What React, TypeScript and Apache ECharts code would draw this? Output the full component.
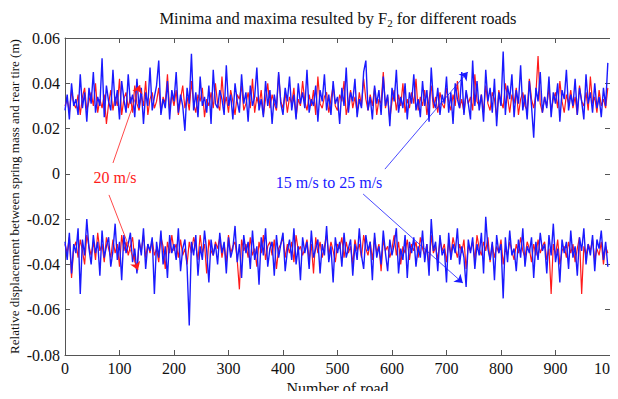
import React, { useEffect, useRef } from "react";
import * as echarts from "echarts";

// road numbers are sampled every 4 roads; values in units of 0.001 m
const roadStep = 4;
const xTickValues = [0, 100, 200, 300, 400, 500, 600, 700, 800, 900, 1000];
const yTickValues = [-0.08, -0.06, -0.04, -0.02, 0, 0.02, 0.04, 0.06];

const upperBlue = [
  28,35,24,40,30,33,26,44,29,36, 23,38,31,45,27,34,30,51,25,39,
  32,28,46,30,37,24,41,33,27,44, 31,35,25,42,29,38,22,36,30,47,
  28,34,39,50,26,33,29,41,24,37, 32,45,27,35,30,19,38,31,53,28,
  36,25,43,30,34,27,39,22,46,31, 29,37,33,26,48,30,35,24,40,32,
  27,44,31,36,23,39,30,34,47,28, 33,25,41,30,37,22,35,29,45,31,
  26,38,32,43,28,35,24,40,31,36, 29,46,27,33,30,39,23,37,32,44,
  28,35,26,41,31,34,22,38,30,47, 27,36,32,42,25,33,29,45,50,28,
  34,24,39,31,37,26,43,30,35,21, 38,32,46,27,34,29,40,24,36,31,
  44,28,33,25,41,30,37,23,47,32, 29,38,26,35,31,43,27,36,22,40,
  33,29,45,26,37,31,24,50,30,41, 28,35,23,46,32,38,27,42,21,36,
  30,54,26,39,33,44,25,37,31,48, 28,35,24,41,30,16,38,32,45,27,
  34,29,43,25,36,31,40,23,37,33, 46,28,35,30,42,26,38,32,24,44,
  31,36,27,40,29,34,25,38,30,49,
];

const upperRed = [
  30,33,27,37,31,29,35,26,34,38, 28,32,36,30,40,27,33,29,35,22,
  31,37,28,34,30,42,26,33,36,29, 34,27,39,31,28,35,30,41,26,33,
  36,29,32,38,27,34,31,44,28,35, 30,37,26,33,39,29,34,28,41,31,
  27,35,32,38,25,33,30,36,29,40, 31,28,43,30,34,27,37,32,26,35,
  33,39,28,31,36,29,42,27,34,30, 37,26,33,40,29,35,31,28,44,32,
  29,36,27,34,31,38,25,33,30,41, 32,28,35,30,37,26,43,31,29,34,
  36,27,33,39,30,28,35,32,41,26, 31,37,29,34,27,36,30,42,33,28,
  35,30,38,26,33,31,45,29,34,24, 32,37,28,35,30,40,27,33,29,36,
  31,42,28,34,30,37,26,33,39,29, 34,27,36,31,29,38,32,28,35,30,
  41,29,33,27,36,31,34,28,44,32, 30,35,27,39,31,28,36,33,25,37,
  32,29,40,34,27,35,31,38,26,33, 36,30,28,42,33,29,35,52,31,27,
  34,30,38,28,33,36,29,41,32,27, 35,31,37,29,34,26,39,32,30,36,
  28,43,31,34,27,37,30,33,29,38,
];

const lowerBlue = [
  -30,-38,-26,-44,-31,-35,-24,-53,-29,-36, -20,-33,-40,-27,-35,-30,-45,-25,-37,-32,
  -28,-41,-34,-22,-38,-30,-47,-27,-35,-31, -26,-39,-33,-44,-29,-36,-24,-42,-31,-34,
  -28,-53,-30,-37,-25,-40,-32,-46,-27,-35, -31,-38,-24,-43,-33,-29,-41,-67,-30,-36,
  -27,-45,-32,-38,-25,-34,-48,-29,-36,-31, -40,-26,-35,-30,-44,-28,-37,-33,-23,-39,
  -31,-46,-27,-35,-30,-42,-25,-38,-32,-49, -28,-36,-24,-41,-33,-30,-45,-27,-37,-31,
  -26,-43,-34,-29,-38,-24,-40,-32,-47,-28, -35,-30,-42,-25,-37,-33,-29,-44,-31,-36,
  -23,-39,-32,-48,-28,-35,-30,-41,-26,-37, -33,-29,-45,-31,-38,-24,-36,-42,-27,-34,
  -30,-47,-26,-37,-32,-40,-25,-35,-43,-29, -36,-31,-24,-44,-33,-38,-27,-46,-30,-35,
  -28,-41,-32,-37,-25,-39,-31,-45,-20,-34, -30,-43,-27,-36,-33,-48,-26,-38,-31,-35,
  -24,-40,-32,-37,-50,-29,-35,-28,-42,-31, -36,-26,-44,-19,-33,-38,-30,-47,-27,-35,
  -31,-55,-28,-39,-25,-36,-33,-43,-29,-37, -24,-41,-32,-35,-28,-46,-30,-38,-26,-34,
  -31,-44,-27,-36,-22,-39,-33,-48,-29,-35, -30,-42,-25,-37,-32,-45,-28,-34,-24,-40,
  -31,-36,-27,-43,-29,-33,-25,-38,-30,-41,
];

const lowerRed = [
  -31,-35,-28,-46,-33,-30,-37,-29,-34,-40, -27,-32,-36,-30,-38,-26,-34,-31,-39,-28,
  -33,-37,-29,-35,-31,-41,-27,-34,-30,-36, -32,-28,-38,-43,-30,-34,-27,-37,-31,-35,
  -29,-36,-33,-39,-28,-32,-42,-30,-35,-27, -34,-31,-37,-29,-36,-33,-40,-30,-35,-28,
  -32,-38,-27,-35,-31,-44,-29,-34,-36,-30, -33,-28,-37,-31,-39,-27,-35,-32,-30,-38,
  -51,-29,-34,-31,-37,-28,-36,-33,-41,-30, -35,-27,-38,-32,-30,-36,-29,-42,-33,-31,
  -28,-37,-31,-35,-30,-39,-27,-34,-32,-36, -33,-29,-38,-31,-44,-28,-35,-30,-37,-32,
  -27,-36,-30,-34,-39,-31,-33,-28,-37,-30, -35,-32,-40,-29,-34,-31,-37,-27,-33,-36,
  -30,-38,-28,-35,-31,-43,-29,-34,-32,-37, -33,-27,-36,-30,-40,-32,-35,-29,-38,-31,
  -34,-30,-37,-28,-33,-36,-31,-41,-27,-35, -32,-38,-29,-34,-31,-39,-30,-36,-28,-33,
  -37,-31,-35,-29,-42,-32,-34,-30,-38,-27, -33,-36,-30,-34,-28,-39,-31,-37,-32,-35,
  -29,-40,-33,-36,-30,-34,-38,-31,-35,-28, -34,-37,-30,-33,-39,-31,-36,-29,-35,-32,
  -30,-38,-33,-53,-31,-36,-29,-40,-34,-32, -37,-30,-35,-31,-39,-33,-28,-53,-32,-36,
  -31,-34,-29,-38,-33,-36,-30,-40,-32,-35,
];

// annotation arrows in data coordinates: [road, displacement] start -> end
const redArrows = [
  [[88, 0.0048], [137.6, 0.0392]],
  [[80.7, -0.0093], [134, -0.0425]],
];
const blueArrows = [
  [[587, 0.0021], [739, 0.045]],
  [[547, -0.0089], [730, -0.0482]],
];

const RED = "#ff1a1a";
const BLUE = "#1a1aff";

const toPairs = (arr: number[]) => arr.map((v, i) => [i * roadStep, v / 1000]);

const fmtY = (v: number) => (Math.abs(v) < 1e-9 ? "0" : v.toFixed(2));

export default function App() {
  const ref = useRef<HTMLDivElement>(null);
  useEffect(() => {
    if (!ref.current) return;
    const chart = echarts.init(ref.current, undefined, { renderer: "svg" });
    const font = "'Liberation Serif', 'Times New Roman', serif";
    const axisColor = "#555";
    const mkArrows = (arrows: number[][][], color: string) => ({
      silent: true,
      symbol: ["none", "arrow"],
      symbolSize: 8,
      label: { show: false },
      lineStyle: { color, width: 0.8, type: "solid" },
      emphasis: { disabled: true },
      data: arrows.map((a) => [{ coord: a[0] }, { coord: a[1] }]),
    });
    const lineSeries = (data: number[][], color: string, width: number, extra: any = {}) => ({
      type: "line",
      data,
      showSymbol: false,
      symbol: "none",
      lineStyle: { color, width },
      itemStyle: { color },
      silent: true,
      ...extra,
    });
    const axisLine = { show: true, onZero: false, lineStyle: { color: axisColor, width: 1 } };
    const axisTick = { show: true, inside: true, length: 5, lineStyle: { color: axisColor } };
    chart.setOption({
      animation: false,
      grid: { left: 65, right: 8, top: 38, bottom: 44, outerBoundsMode: "none", containLabel: false },
      xAxis: [
        {
          type: "value",
          min: 0,
          max: 1000,
          interval: 100,
          name: "Number of road",
          nameLocation: "middle",
          nameGap: 25,
          nameMoveOverlap: false,
          nameTextStyle: { fontFamily: font, fontSize: 16, color: "#111" },
          axisLine,
          axisTick,
          axisLabel: { fontFamily: font, fontSize: 16, color: "#111", margin: 5,
            formatter: (v: number) => String(v), customValues: xTickValues },
          splitLine: { show: false },
        },
        {
          type: "value",
          position: "top",
          min: 0,
          max: 1000,
          interval: 100,
          axisLine,
          axisTick,
          axisLabel: { show: false },
          splitLine: { show: false },
        },
      ],
      yAxis: [
        {
          type: "value",
          min: -0.08,
          max: 0.06,
          interval: 0.02,
          name: "Relative displacement between spring mass and rear tire (m)",
          nameLocation: "middle",
          nameGap: 44,
          nameMoveOverlap: false,
          nameTextStyle: { fontFamily: font, fontSize: 13, color: "#111" },
          axisLine,
          axisTick,
          axisLabel: { fontFamily: font, fontSize: 16, color: "#111", margin: 5,
            formatter: fmtY, customValues: yTickValues },
          splitLine: { show: false },
        },
        {
          type: "value",
          position: "right",
          min: -0.08,
          max: 0.06,
          interval: 0.02,
          axisLine,
          axisTick,
          axisLabel: { show: false },
          splitLine: { show: false },
        },
      ],
      series: [
        lineSeries(toPairs(upperRed), RED, 1.2, { markLine: mkArrows(redArrows, RED) }),
        lineSeries(toPairs(lowerRed), RED, 1.2),
        lineSeries(toPairs(upperBlue), BLUE, 1.4, { markLine: mkArrows(blueArrows, BLUE) }),
        lineSeries(toPairs(lowerBlue), BLUE, 1.4),
      ],
      graphic: [
        {
          type: "text",
          x: 338,
          y: 18,
          style: {
            text: "{a|Minima and maxima resulted by F}{s|2}{a| for different roads}",
            align: "center",
            verticalAlign: "middle",
            rich: {
              a: { fontFamily: font, fontSize: 16.5, fill: "#111", lineHeight: 22 },
              s: { fontFamily: font, fontSize: 11, fill: "#111", lineHeight: 22, padding: [10, 0, 0, 0] },
            },
          },
        },
        {
          type: "text",
          x: 115,
          y: 177,
          style: {
            text: "20 m/s",
            align: "center",
            verticalAlign: "middle",
            fontFamily: font,
            fontSize: 16,
            fill: RED,
          },
        },
        {
          type: "text",
          x: 329,
          y: 182,
          style: {
            text: "15 m/s to 25 m/s",
            align: "center",
            verticalAlign: "middle",
            fontFamily: font,
            fontSize: 16,
            fill: BLUE,
          },
        },
      ],
    });
    return () => chart.dispose();
  }, []);
  return <div ref={ref} style={{ width: 618, height: 399, margin: -8 }} />;
}
